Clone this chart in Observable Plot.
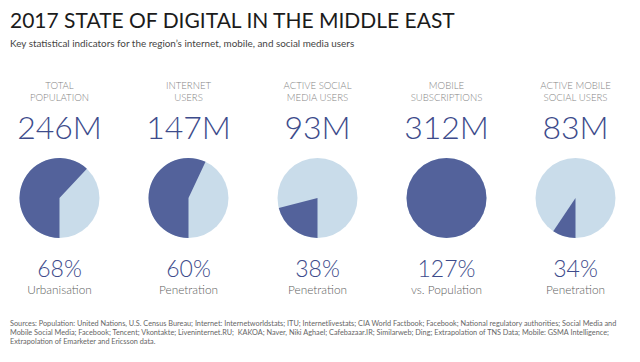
<!DOCTYPE html>
<html><head><meta charset="utf-8">
<script src="https://cdn.jsdelivr.net/npm/d3@7"></script>
<script src="https://cdn.jsdelivr.net/npm/@observablehq/plot@0.6"></script>
<style>
body{margin:0;background:#fff;font-family:Lato,"Open Sans",sans-serif;}
#wrap{position:relative;width:640px;height:362px;overflow:hidden;}
#title{position:absolute;left:10px;top:8px;font-size:21px;color:#1b1b1b;white-space:nowrap;line-height:24px;}
#sub{position:absolute;left:10px;top:37px;font-size:9.9px;color:#444;line-height:13px;white-space:nowrap;}
#chart{position:absolute;left:0;top:60px;}
#foot{position:absolute;left:10px;top:319px;font-size:7.3px;line-height:9px;color:#666;white-space:pre;}
</style></head>
<body><div id="wrap">
<div id="title"></div>
<div id="sub"></div>
<div id="chart"></div>
<div id="foot"></div>
</div>
<script>
const titleText = "2017 STATE OF DIGITAL IN THE MIDDLE EAST";
const subtitleText = "Key statistical indicators for the region\u2019s internet, mobile, and social media users";
const footLines = [
  "Sources: Population: United Nations, U.S. Census Bureau; Internet: Internetworldstats; ITU; Internetlivestats; CIA World Factbook; Facebook; National regulatory authorities; Social Media and",
  "Mobile Social Media; Facebook; Tencent; Vkontakte; Liveninternet.RU;  KAKOA; Naver, Niki Aghael; Cafebazaar.IR; Similarweb; Ding; Extrapolation of TNS Data; Mobile: GSMA Intelligence;",
  "Extrapolation of Emarketer and Ericsson data."
];

const categories = ["population", "internet", "social", "mobile", "mobileSocial"];
const headers = ["TOTAL\nPOPULATION", "INTERNET\nUSERS", "ACTIVE SOCIAL\nMEDIA USERS", "MOBILE\nSUBSCRIPTIONS", "ACTIVE MOBILE\nSOCIAL USERS"];
const millions = [246, 147, 93, 312, 83];
const percents = [68, 60, 38, 127, 34];
const percentLabels = ["Urbanisation", "Penetration", "Penetration", "vs. Population", "Penetration"];
// share of each pie drawn dark
const pieDrawnShare = [0.62, 0.57, 0.21, 1, 0.094];

const rows = categories.map((c, i) => ({
  cat: c, header: headers[i], value: millions[i], pct: percents[i],
  label: percentLabels[i], share: pieDrawnShare[i]
}));

const darkBlue = "#53629b";
const lightBlue = "#c9dcea";
const textBlue = "#3d4b8b";
const lightFont = "'Lato Light', 'Roboto Light', 'Open Sans Light', Lato, sans-serif";

const wedge = share => ({
  draw(ctx, size) {
    const r = Math.sqrt(size / Math.PI);
    if (share >= 1) { ctx.moveTo(r, 0); ctx.arc(0, 0, r, 0, 2 * Math.PI); ctx.closePath(); return; }
    const a0 = Math.PI / 2, a1 = a0 + share * 2 * Math.PI;
    ctx.moveTo(0, 0);
    ctx.arc(0, 0, r, a0, a1);
    ctx.closePath();
  }
});

document.getElementById("title").textContent = titleText;
document.getElementById("sub").textContent = subtitleText;
document.getElementById("foot").textContent = footLines.join("\n");

const pieY = 137.5, pieR = 40;

const chart = Plot.plot({
  width: 640, height: 250, margin: 0,
  style: {fontFamily: "Lato, 'Open Sans', sans-serif", background: "transparent"},
  x: {type: "point", domain: categories, range: [58, 576], padding: 0, axis: null},
  marks: [
    Plot.text(rows, {x: "cat", text: "header", frameAnchor: "top", dy: 20.7, lineAnchor: "top",
      fontSize: 9.6, lineHeight: 1.2, fill: "#858585", fontFamily: lightFont, fontWeight: 300}),
    Plot.text(rows, {x: "cat", text: d => d.value + "M", frameAnchor: "top", dy: 56, lineAnchor: "top",
      fontSize: 32, fontWeight: 300, fill: textBlue, fontFamily: lightFont}),
    Plot.dot(rows, {x: "cat", frameAnchor: "top", dy: pieY, r: pieR, fill: lightBlue, stroke: "none"}),
    ...rows.map(row => Plot.dot([row], {x: "cat", frameAnchor: "top", dy: pieY, r: pieR,
      symbol: wedge(row.share), fill: darkBlue, stroke: "none"})),
    Plot.text(rows, {x: "cat", text: d => d.pct + "%", frameAnchor: "top", dy: 200, lineAnchor: "top",
      fontSize: 23, fontWeight: 300, fill: textBlue, fontFamily: lightFont}),
    Plot.text(rows, {x: "cat", text: "label", frameAnchor: "top", dy: 225, lineAnchor: "top",
      fontSize: 11.8, fill: "#5e5e5e", fontFamily: lightFont, fontWeight: 300})
  ]
});
document.getElementById("chart").appendChild(chart);
</script>
</body></html>
